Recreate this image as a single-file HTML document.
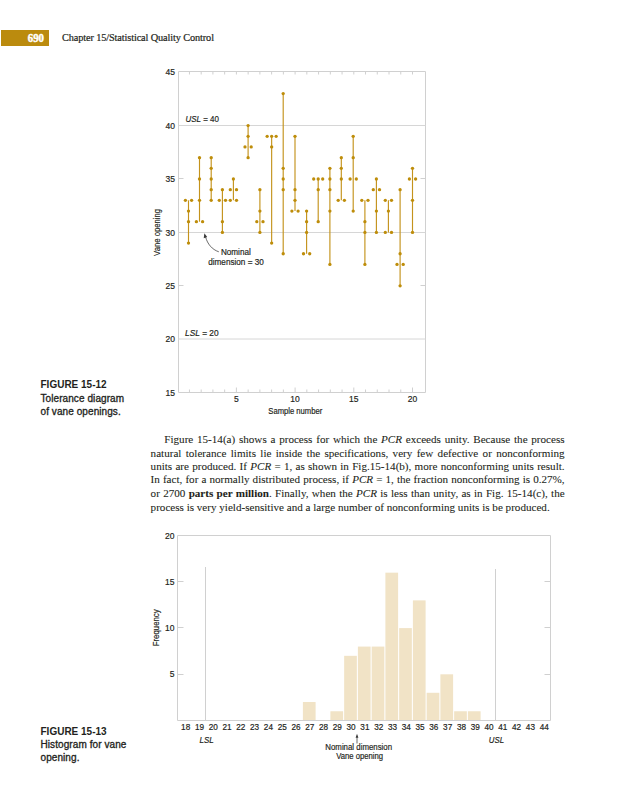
<!DOCTYPE html>
<html><head><meta charset="utf-8"><style>
html,body{margin:0;padding:0;background:#fff;}
body{width:639px;height:800px;position:relative;overflow:hidden;}
svg{position:absolute;left:0;top:0;}
svg text{font-family:"Liberation Sans",sans-serif;fill:#231F20;stroke:#231F20;stroke-width:0.18px;}
.pn{position:absolute;left:1px;top:30px;width:48px;height:16px;background:#BB8B0E;}
.pn span{position:absolute;right:5.3px;top:-0.3px;font-family:"Liberation Serif",serif;font-weight:bold;color:#fff;font-size:12px;line-height:16px;-webkit-text-stroke:0.45px #fff;transform:scaleX(0.9);transform-origin:right center;}
.hd{position:absolute;left:62px;top:30px;font-family:"Liberation Serif",serif;font-size:10.3px;letter-spacing:-0.12px;line-height:16px;color:#231F20;-webkit-text-stroke:0.2px #231F20;}
.cap{position:absolute;left:40.5px;font-family:"Liberation Sans",sans-serif;font-size:10px;line-height:13.3px;color:#231F20;-webkit-text-stroke:0.32px #231F20;letter-spacing:0.08px;}
.cap b{font-weight:bold;-webkit-text-stroke:0;letter-spacing:0;}
.para{position:absolute;left:150.6px;top:433px;width:414px;font-family:"Liberation Serif",serif;font-size:11.1px;line-height:13.4px;color:#231F20;-webkit-text-stroke:0.08px #231F20;}
.para div{position:absolute;left:0;width:414px;box-sizing:border-box;text-align:justify;text-align-last:justify;white-space:nowrap;}
.para div.last{text-align-last:left;}
</style></head><body>
<div class="pn"><span>690</span></div>
<div class="hd">Chapter 15/Statistical Quality Control</div>
<svg width="639" height="800" viewBox="0 0 639 800">
<path d="M178.5,71.5H425.5V392.5H178.5Z" fill="none" stroke="#D0D0D0" stroke-width="1"/>
<line x1="178.5" x2="425.5" y1="125.5" y2="125.5" stroke="#D6D6D6" stroke-width="1"/>
<line x1="178.5" x2="425.5" y1="232.5" y2="232.5" stroke="#D6D6D6" stroke-width="1"/>
<line x1="178.5" x2="425.5" y1="339.0" y2="339.0" stroke="#D6D6D6" stroke-width="1"/>
<line x1="178.5" x2="183.5" y1="178.5" y2="178.5" stroke="#D0D0D0" stroke-width="1"/>
<line x1="420.5" x2="425.5" y1="178.5" y2="178.5" stroke="#D0D0D0" stroke-width="1"/>
<line x1="178.5" x2="183.5" y1="285.5" y2="285.5" stroke="#D0D0D0" stroke-width="1"/>
<line x1="420.5" x2="425.5" y1="285.5" y2="285.5" stroke="#D0D0D0" stroke-width="1"/>
<line x1="189.44" x2="189.44" y1="71.5" y2="74.5" stroke="#D0D0D0" stroke-width="1"/>
<line x1="189.44" x2="189.44" y1="392.5" y2="389.5" stroke="#D0D0D0" stroke-width="1"/>
<line x1="201.18" x2="201.18" y1="71.5" y2="74.5" stroke="#D0D0D0" stroke-width="1"/>
<line x1="201.18" x2="201.18" y1="392.5" y2="389.5" stroke="#D0D0D0" stroke-width="1"/>
<line x1="212.92" x2="212.92" y1="71.5" y2="74.5" stroke="#D0D0D0" stroke-width="1"/>
<line x1="212.92" x2="212.92" y1="392.5" y2="389.5" stroke="#D0D0D0" stroke-width="1"/>
<line x1="224.66" x2="224.66" y1="71.5" y2="74.5" stroke="#D0D0D0" stroke-width="1"/>
<line x1="224.66" x2="224.66" y1="392.5" y2="389.5" stroke="#D0D0D0" stroke-width="1"/>
<line x1="236.40" x2="236.40" y1="71.5" y2="74.5" stroke="#D0D0D0" stroke-width="1"/>
<line x1="236.40" x2="236.40" y1="392.5" y2="387.5" stroke="#D0D0D0" stroke-width="1"/>
<line x1="248.14" x2="248.14" y1="71.5" y2="74.5" stroke="#D0D0D0" stroke-width="1"/>
<line x1="248.14" x2="248.14" y1="392.5" y2="389.5" stroke="#D0D0D0" stroke-width="1"/>
<line x1="259.88" x2="259.88" y1="71.5" y2="74.5" stroke="#D0D0D0" stroke-width="1"/>
<line x1="259.88" x2="259.88" y1="392.5" y2="389.5" stroke="#D0D0D0" stroke-width="1"/>
<line x1="271.62" x2="271.62" y1="71.5" y2="74.5" stroke="#D0D0D0" stroke-width="1"/>
<line x1="271.62" x2="271.62" y1="392.5" y2="389.5" stroke="#D0D0D0" stroke-width="1"/>
<line x1="283.36" x2="283.36" y1="71.5" y2="74.5" stroke="#D0D0D0" stroke-width="1"/>
<line x1="283.36" x2="283.36" y1="392.5" y2="389.5" stroke="#D0D0D0" stroke-width="1"/>
<line x1="295.10" x2="295.10" y1="71.5" y2="74.5" stroke="#D0D0D0" stroke-width="1"/>
<line x1="295.10" x2="295.10" y1="392.5" y2="387.5" stroke="#D0D0D0" stroke-width="1"/>
<line x1="306.84" x2="306.84" y1="71.5" y2="74.5" stroke="#D0D0D0" stroke-width="1"/>
<line x1="306.84" x2="306.84" y1="392.5" y2="389.5" stroke="#D0D0D0" stroke-width="1"/>
<line x1="318.58" x2="318.58" y1="71.5" y2="74.5" stroke="#D0D0D0" stroke-width="1"/>
<line x1="318.58" x2="318.58" y1="392.5" y2="389.5" stroke="#D0D0D0" stroke-width="1"/>
<line x1="330.32" x2="330.32" y1="71.5" y2="74.5" stroke="#D0D0D0" stroke-width="1"/>
<line x1="330.32" x2="330.32" y1="392.5" y2="389.5" stroke="#D0D0D0" stroke-width="1"/>
<line x1="342.06" x2="342.06" y1="71.5" y2="74.5" stroke="#D0D0D0" stroke-width="1"/>
<line x1="342.06" x2="342.06" y1="392.5" y2="389.5" stroke="#D0D0D0" stroke-width="1"/>
<line x1="353.80" x2="353.80" y1="71.5" y2="74.5" stroke="#D0D0D0" stroke-width="1"/>
<line x1="353.80" x2="353.80" y1="392.5" y2="387.5" stroke="#D0D0D0" stroke-width="1"/>
<line x1="365.54" x2="365.54" y1="71.5" y2="74.5" stroke="#D0D0D0" stroke-width="1"/>
<line x1="365.54" x2="365.54" y1="392.5" y2="389.5" stroke="#D0D0D0" stroke-width="1"/>
<line x1="377.28" x2="377.28" y1="71.5" y2="74.5" stroke="#D0D0D0" stroke-width="1"/>
<line x1="377.28" x2="377.28" y1="392.5" y2="389.5" stroke="#D0D0D0" stroke-width="1"/>
<line x1="389.02" x2="389.02" y1="71.5" y2="74.5" stroke="#D0D0D0" stroke-width="1"/>
<line x1="389.02" x2="389.02" y1="392.5" y2="389.5" stroke="#D0D0D0" stroke-width="1"/>
<line x1="400.76" x2="400.76" y1="71.5" y2="74.5" stroke="#D0D0D0" stroke-width="1"/>
<line x1="400.76" x2="400.76" y1="392.5" y2="389.5" stroke="#D0D0D0" stroke-width="1"/>
<line x1="412.50" x2="412.50" y1="71.5" y2="74.5" stroke="#D0D0D0" stroke-width="1"/>
<line x1="412.50" x2="412.50" y1="392.5" y2="387.5" stroke="#D0D0D0" stroke-width="1"/>
<text x="175" y="75.30" text-anchor="end" font-size="8.5">45</text>
<text x="175" y="128.70" text-anchor="end" font-size="8.5">40</text>
<text x="175" y="182.10" text-anchor="end" font-size="8.5">35</text>
<text x="175" y="235.50" text-anchor="end" font-size="8.5">30</text>
<text x="175" y="288.90" text-anchor="end" font-size="8.5">25</text>
<text x="175" y="342.30" text-anchor="end" font-size="8.5">20</text>
<text x="175" y="395.70" text-anchor="end" font-size="8.5">15</text>
<text x="236.40" y="402.3" text-anchor="middle" font-size="8.5">5</text>
<text x="295.10" y="402.3" text-anchor="middle" font-size="8.5">10</text>
<text x="353.80" y="402.3" text-anchor="middle" font-size="8.5">15</text>
<text x="412.50" y="402.3" text-anchor="middle" font-size="8.5">20</text>
<text x="268.3" y="413.8" text-anchor="start" font-size="8.2" textLength="54" lengthAdjust="spacingAndGlyphs">Sample number</text>
<text transform="translate(160.2,255.9) rotate(-90)" font-size="8.2" textLength="47" lengthAdjust="spacingAndGlyphs">Vane opening</text>
<text x="185.5" y="121.9" text-anchor="start" font-size="8.2" textLength="33.5" lengthAdjust="spacingAndGlyphs"><tspan font-style="italic">USL</tspan> = 40</text>
<text x="185.0" y="335.8" text-anchor="start" font-size="8.2" textLength="33.6" lengthAdjust="spacingAndGlyphs"><tspan font-style="italic">LSL</tspan> = 20</text>
<text x="220.9" y="255" text-anchor="start" font-size="8.4" textLength="29.9" lengthAdjust="spacingAndGlyphs">Nominal</text>
<text x="208.2" y="264.8" text-anchor="start" font-size="8.4" textLength="55.6" lengthAdjust="spacingAndGlyphs">dimension = 30</text>
<path d="M218.8,251.8 C212,249.5 207.5,244 205.6,237" fill="none" stroke="#3a3a3a" stroke-width="0.75"/>
<path d="M204.4,233.2 L203.7,238.2 L207.2,237.1 Z" fill="#3a3a3a"/>
<line x1="188.50" x2="188.50" y1="200.36" y2="243.08" stroke="#C4931C" stroke-width="1.15"/>
<circle cx="185.40" cy="200.36" r="1.65" fill="#BE8D0A"/>
<circle cx="191.60" cy="200.36" r="1.65" fill="#BE8D0A"/>
<circle cx="188.50" cy="211.04" r="1.65" fill="#BE8D0A"/>
<circle cx="188.50" cy="221.72" r="1.65" fill="#BE8D0A"/>
<circle cx="188.50" cy="243.08" r="1.65" fill="#BE8D0A"/>
<line x1="199.50" x2="199.50" y1="157.64" y2="221.72" stroke="#C4931C" stroke-width="1.15"/>
<circle cx="199.50" cy="157.64" r="1.65" fill="#BE8D0A"/>
<circle cx="199.50" cy="179.00" r="1.65" fill="#BE8D0A"/>
<circle cx="199.50" cy="200.36" r="1.65" fill="#BE8D0A"/>
<circle cx="196.40" cy="221.72" r="1.65" fill="#BE8D0A"/>
<circle cx="202.60" cy="221.72" r="1.65" fill="#BE8D0A"/>
<line x1="211.20" x2="211.20" y1="157.64" y2="200.36" stroke="#C4931C" stroke-width="1.15"/>
<circle cx="211.20" cy="157.64" r="1.65" fill="#BE8D0A"/>
<circle cx="211.20" cy="168.32" r="1.65" fill="#BE8D0A"/>
<circle cx="211.20" cy="179.00" r="1.65" fill="#BE8D0A"/>
<circle cx="211.20" cy="189.68" r="1.65" fill="#BE8D0A"/>
<circle cx="211.20" cy="200.36" r="1.65" fill="#BE8D0A"/>
<line x1="222.40" x2="222.40" y1="189.68" y2="232.40" stroke="#C4931C" stroke-width="1.15"/>
<circle cx="222.40" cy="189.68" r="1.65" fill="#BE8D0A"/>
<circle cx="219.30" cy="200.36" r="1.65" fill="#BE8D0A"/>
<circle cx="225.50" cy="200.36" r="1.65" fill="#BE8D0A"/>
<circle cx="222.40" cy="221.72" r="1.65" fill="#BE8D0A"/>
<circle cx="222.40" cy="232.40" r="1.65" fill="#BE8D0A"/>
<line x1="233.40" x2="233.40" y1="179.00" y2="200.36" stroke="#C4931C" stroke-width="1.15"/>
<circle cx="233.40" cy="179.00" r="1.65" fill="#BE8D0A"/>
<circle cx="230.30" cy="189.68" r="1.65" fill="#BE8D0A"/>
<circle cx="236.50" cy="189.68" r="1.65" fill="#BE8D0A"/>
<circle cx="230.30" cy="200.36" r="1.65" fill="#BE8D0A"/>
<circle cx="236.50" cy="200.36" r="1.65" fill="#BE8D0A"/>
<line x1="248.10" x2="248.10" y1="125.60" y2="157.64" stroke="#C4931C" stroke-width="1.15"/>
<circle cx="248.10" cy="125.60" r="1.65" fill="#BE8D0A"/>
<circle cx="248.10" cy="136.28" r="1.65" fill="#BE8D0A"/>
<circle cx="245.00" cy="146.96" r="1.65" fill="#BE8D0A"/>
<circle cx="251.20" cy="146.96" r="1.65" fill="#BE8D0A"/>
<circle cx="248.10" cy="157.64" r="1.65" fill="#BE8D0A"/>
<line x1="259.90" x2="259.90" y1="189.68" y2="232.40" stroke="#C4931C" stroke-width="1.15"/>
<circle cx="259.90" cy="189.68" r="1.65" fill="#BE8D0A"/>
<circle cx="259.90" cy="211.04" r="1.65" fill="#BE8D0A"/>
<circle cx="256.80" cy="221.72" r="1.65" fill="#BE8D0A"/>
<circle cx="263.00" cy="221.72" r="1.65" fill="#BE8D0A"/>
<circle cx="259.90" cy="232.40" r="1.65" fill="#BE8D0A"/>
<line x1="271.65" x2="271.65" y1="136.28" y2="243.08" stroke="#C4931C" stroke-width="1.15"/>
<circle cx="267.15" cy="136.28" r="1.65" fill="#BE8D0A"/>
<circle cx="271.65" cy="136.28" r="1.65" fill="#BE8D0A"/>
<circle cx="276.15" cy="136.28" r="1.65" fill="#BE8D0A"/>
<circle cx="271.65" cy="146.96" r="1.65" fill="#BE8D0A"/>
<circle cx="271.65" cy="243.08" r="1.65" fill="#BE8D0A"/>
<line x1="283.20" x2="283.20" y1="93.56" y2="253.76" stroke="#C4931C" stroke-width="1.15"/>
<circle cx="283.20" cy="93.56" r="1.65" fill="#BE8D0A"/>
<circle cx="283.20" cy="168.32" r="1.65" fill="#BE8D0A"/>
<circle cx="283.20" cy="179.00" r="1.65" fill="#BE8D0A"/>
<circle cx="283.20" cy="189.68" r="1.65" fill="#BE8D0A"/>
<circle cx="283.20" cy="253.76" r="1.65" fill="#BE8D0A"/>
<line x1="295.00" x2="295.00" y1="136.28" y2="211.04" stroke="#C4931C" stroke-width="1.15"/>
<circle cx="295.00" cy="136.28" r="1.65" fill="#BE8D0A"/>
<circle cx="295.00" cy="189.68" r="1.65" fill="#BE8D0A"/>
<circle cx="295.00" cy="200.36" r="1.65" fill="#BE8D0A"/>
<circle cx="291.90" cy="211.04" r="1.65" fill="#BE8D0A"/>
<circle cx="298.10" cy="211.04" r="1.65" fill="#BE8D0A"/>
<line x1="306.60" x2="306.60" y1="211.04" y2="253.76" stroke="#C4931C" stroke-width="1.15"/>
<circle cx="306.60" cy="211.04" r="1.65" fill="#BE8D0A"/>
<circle cx="306.60" cy="221.72" r="1.65" fill="#BE8D0A"/>
<circle cx="306.60" cy="232.40" r="1.65" fill="#BE8D0A"/>
<circle cx="303.50" cy="253.76" r="1.65" fill="#BE8D0A"/>
<circle cx="309.70" cy="253.76" r="1.65" fill="#BE8D0A"/>
<line x1="318.20" x2="318.20" y1="179.00" y2="221.72" stroke="#C4931C" stroke-width="1.15"/>
<circle cx="313.70" cy="179.00" r="1.65" fill="#BE8D0A"/>
<circle cx="318.20" cy="179.00" r="1.65" fill="#BE8D0A"/>
<circle cx="322.70" cy="179.00" r="1.65" fill="#BE8D0A"/>
<circle cx="318.20" cy="189.68" r="1.65" fill="#BE8D0A"/>
<circle cx="318.20" cy="221.72" r="1.65" fill="#BE8D0A"/>
<line x1="329.90" x2="329.90" y1="168.32" y2="264.44" stroke="#C4931C" stroke-width="1.15"/>
<circle cx="329.90" cy="168.32" r="1.65" fill="#BE8D0A"/>
<circle cx="329.90" cy="179.00" r="1.65" fill="#BE8D0A"/>
<circle cx="329.90" cy="189.68" r="1.65" fill="#BE8D0A"/>
<circle cx="329.90" cy="211.04" r="1.65" fill="#BE8D0A"/>
<circle cx="329.90" cy="264.44" r="1.65" fill="#BE8D0A"/>
<line x1="341.30" x2="341.30" y1="157.64" y2="200.36" stroke="#C4931C" stroke-width="1.15"/>
<circle cx="341.30" cy="157.64" r="1.65" fill="#BE8D0A"/>
<circle cx="341.30" cy="168.32" r="1.65" fill="#BE8D0A"/>
<circle cx="341.30" cy="179.00" r="1.65" fill="#BE8D0A"/>
<circle cx="338.20" cy="200.36" r="1.65" fill="#BE8D0A"/>
<circle cx="344.40" cy="200.36" r="1.65" fill="#BE8D0A"/>
<line x1="353.20" x2="353.20" y1="136.28" y2="211.04" stroke="#C4931C" stroke-width="1.15"/>
<circle cx="353.20" cy="136.28" r="1.65" fill="#BE8D0A"/>
<circle cx="353.20" cy="157.64" r="1.65" fill="#BE8D0A"/>
<circle cx="350.10" cy="179.00" r="1.65" fill="#BE8D0A"/>
<circle cx="356.30" cy="179.00" r="1.65" fill="#BE8D0A"/>
<circle cx="353.20" cy="211.04" r="1.65" fill="#BE8D0A"/>
<line x1="364.90" x2="364.90" y1="200.36" y2="264.44" stroke="#C4931C" stroke-width="1.15"/>
<circle cx="361.80" cy="200.36" r="1.65" fill="#BE8D0A"/>
<circle cx="368.00" cy="200.36" r="1.65" fill="#BE8D0A"/>
<circle cx="364.90" cy="221.72" r="1.65" fill="#BE8D0A"/>
<circle cx="364.90" cy="232.40" r="1.65" fill="#BE8D0A"/>
<circle cx="364.90" cy="264.44" r="1.65" fill="#BE8D0A"/>
<line x1="376.40" x2="376.40" y1="179.00" y2="232.40" stroke="#C4931C" stroke-width="1.15"/>
<circle cx="376.40" cy="179.00" r="1.65" fill="#BE8D0A"/>
<circle cx="373.30" cy="189.68" r="1.65" fill="#BE8D0A"/>
<circle cx="379.50" cy="189.68" r="1.65" fill="#BE8D0A"/>
<circle cx="376.40" cy="211.04" r="1.65" fill="#BE8D0A"/>
<circle cx="376.40" cy="232.40" r="1.65" fill="#BE8D0A"/>
<line x1="388.40" x2="388.40" y1="200.36" y2="232.40" stroke="#C4931C" stroke-width="1.15"/>
<circle cx="385.30" cy="200.36" r="1.65" fill="#BE8D0A"/>
<circle cx="391.50" cy="200.36" r="1.65" fill="#BE8D0A"/>
<circle cx="388.40" cy="211.04" r="1.65" fill="#BE8D0A"/>
<circle cx="385.30" cy="232.40" r="1.65" fill="#BE8D0A"/>
<circle cx="391.50" cy="232.40" r="1.65" fill="#BE8D0A"/>
<line x1="400.10" x2="400.10" y1="189.68" y2="285.80" stroke="#C4931C" stroke-width="1.15"/>
<circle cx="400.10" cy="189.68" r="1.65" fill="#BE8D0A"/>
<circle cx="400.10" cy="253.76" r="1.65" fill="#BE8D0A"/>
<circle cx="397.00" cy="264.44" r="1.65" fill="#BE8D0A"/>
<circle cx="403.20" cy="264.44" r="1.65" fill="#BE8D0A"/>
<circle cx="400.10" cy="285.80" r="1.65" fill="#BE8D0A"/>
<line x1="412.50" x2="412.50" y1="168.32" y2="232.40" stroke="#C4931C" stroke-width="1.15"/>
<circle cx="412.50" cy="168.32" r="1.65" fill="#BE8D0A"/>
<circle cx="409.40" cy="179.00" r="1.65" fill="#BE8D0A"/>
<circle cx="415.60" cy="179.00" r="1.65" fill="#BE8D0A"/>
<circle cx="412.50" cy="200.36" r="1.65" fill="#BE8D0A"/>
<circle cx="412.50" cy="232.40" r="1.65" fill="#BE8D0A"/>
<path d="M177.5,535.5H550.5V720.5H177.5Z" fill="none" stroke="#D0D0D0" stroke-width="1"/>
<line x1="177.5" x2="183.5" y1="581.5" y2="581.5" stroke="#D0D0D0" stroke-width="1"/>
<line x1="544.5" x2="550.5" y1="581.5" y2="581.5" stroke="#D0D0D0" stroke-width="1"/>
<line x1="177.5" x2="183.5" y1="627.5" y2="627.5" stroke="#D0D0D0" stroke-width="1"/>
<line x1="544.5" x2="550.5" y1="627.5" y2="627.5" stroke="#D0D0D0" stroke-width="1"/>
<line x1="177.5" x2="183.5" y1="674.5" y2="674.5" stroke="#D0D0D0" stroke-width="1"/>
<line x1="544.5" x2="550.5" y1="674.5" y2="674.5" stroke="#D0D0D0" stroke-width="1"/>
<text x="174.5" y="538.50" text-anchor="end" font-size="8.5">20</text>
<text x="174.5" y="584.70" text-anchor="end" font-size="8.5">15</text>
<text x="174.5" y="630.90" text-anchor="end" font-size="8.5">10</text>
<text x="174.5" y="677.10" text-anchor="end" font-size="8.5">5</text>
<line x1="205.5" x2="205.5" y1="567" y2="720.5" stroke="#D0D0D0" stroke-width="1"/>
<line x1="495.5" x2="495.5" y1="569" y2="720.5" stroke="#D0D0D0" stroke-width="1"/>
<rect x="302.90" y="702.02" width="12.7" height="17.98" fill="#F1E3C6"/>
<rect x="330.40" y="711.26" width="12.7" height="8.74" fill="#F1E3C6"/>
<rect x="344.15" y="655.82" width="12.7" height="64.18" fill="#F1E3C6"/>
<rect x="357.90" y="646.58" width="12.7" height="73.42" fill="#F1E3C6"/>
<rect x="371.65" y="646.58" width="12.7" height="73.42" fill="#F1E3C6"/>
<rect x="385.40" y="572.66" width="12.7" height="147.34" fill="#F1E3C6"/>
<rect x="399.15" y="628.10" width="12.7" height="91.90" fill="#F1E3C6"/>
<rect x="412.90" y="600.38" width="12.7" height="119.62" fill="#F1E3C6"/>
<rect x="426.65" y="692.78" width="12.7" height="27.22" fill="#F1E3C6"/>
<rect x="440.40" y="674.30" width="12.7" height="45.70" fill="#F1E3C6"/>
<rect x="454.15" y="711.26" width="12.7" height="8.74" fill="#F1E3C6"/>
<rect x="467.90" y="711.26" width="12.7" height="8.74" fill="#F1E3C6"/>
<text x="185.65" y="730.2" text-anchor="middle" font-size="8.2">18</text>
<text x="199.44" y="730.2" text-anchor="middle" font-size="8.2">19</text>
<text x="213.23" y="730.2" text-anchor="middle" font-size="8.2">20</text>
<text x="227.02" y="730.2" text-anchor="middle" font-size="8.2">21</text>
<text x="240.81" y="730.2" text-anchor="middle" font-size="8.2">22</text>
<text x="254.60" y="730.2" text-anchor="middle" font-size="8.2">23</text>
<text x="268.39" y="730.2" text-anchor="middle" font-size="8.2">24</text>
<text x="282.18" y="730.2" text-anchor="middle" font-size="8.2">25</text>
<text x="295.97" y="730.2" text-anchor="middle" font-size="8.2">26</text>
<text x="309.76" y="730.2" text-anchor="middle" font-size="8.2">27</text>
<text x="323.55" y="730.2" text-anchor="middle" font-size="8.2">28</text>
<text x="337.34" y="730.2" text-anchor="middle" font-size="8.2">29</text>
<text x="351.13" y="730.2" text-anchor="middle" font-size="8.2">30</text>
<text x="364.92" y="730.2" text-anchor="middle" font-size="8.2">31</text>
<text x="378.71" y="730.2" text-anchor="middle" font-size="8.2">32</text>
<text x="392.50" y="730.2" text-anchor="middle" font-size="8.2">33</text>
<text x="406.29" y="730.2" text-anchor="middle" font-size="8.2">34</text>
<text x="420.08" y="730.2" text-anchor="middle" font-size="8.2">35</text>
<text x="433.87" y="730.2" text-anchor="middle" font-size="8.2">36</text>
<text x="447.66" y="730.2" text-anchor="middle" font-size="8.2">37</text>
<text x="461.45" y="730.2" text-anchor="middle" font-size="8.2">38</text>
<text x="475.24" y="730.2" text-anchor="middle" font-size="8.2">39</text>
<text x="489.03" y="730.2" text-anchor="middle" font-size="8.2">40</text>
<text x="502.82" y="730.2" text-anchor="middle" font-size="8.2">41</text>
<text x="516.61" y="730.2" text-anchor="middle" font-size="8.2">42</text>
<text x="530.40" y="730.2" text-anchor="middle" font-size="8.2">43</text>
<text x="544.19" y="730.2" text-anchor="middle" font-size="8.2">44</text>
<text x="199.6" y="742.9" text-anchor="start" font-size="8.2" textLength="14.2" lengthAdjust="spacingAndGlyphs" font-style="italic">LSL</text>
<text x="488.8" y="742.9" text-anchor="start" font-size="8.2" textLength="15.2" lengthAdjust="spacingAndGlyphs" font-style="italic">USL</text>
<line x1="357" x2="357" y1="736" y2="743.5" stroke="#3a3a3a" stroke-width="0.75"/>
<path d="M357,733.8 L355.6,737.8 L358.4,737.8 Z" fill="#3a3a3a"/>
<text x="325.3" y="750.1" text-anchor="start" font-size="8.2" textLength="66.8" lengthAdjust="spacingAndGlyphs">Nominal dimension</text>
<text x="336.2" y="759.1" text-anchor="start" font-size="8.2" textLength="46.8" lengthAdjust="spacingAndGlyphs">Vane opening</text>
<text transform="translate(159.0,646.3) rotate(-90)" font-size="8.2" textLength="37" lengthAdjust="spacingAndGlyphs">Frequency</text>
</svg>
<div class="cap" style="top:378px"><b>FIGURE 15-12</b></div><div class="cap" style="top:392.3px">Tolerance diagram</div><div class="cap" style="top:404.6px">of vane openings.</div>
<div class="cap" style="top:725px"><b>FIGURE 15-13</b></div><div class="cap" style="top:738.2px">Histogram for vane</div><div class="cap" style="top:751.1px">opening.</div>
<div class="para">
<div style="padding-left:13.7px;top:0px">Figure 15-14(a) shows a process for which the <i>PCR</i> exceeds unity. Because the process</div>
<div style="top:14.25px">natural tolerance limits lie inside the specifications, very few defective or nonconforming</div>
<div style="top:26.8px">units are produced. If <i>PCR</i> = 1, as shown in Fig.15-14(b), more nonconforming units result.</div>
<div style="top:40.2px">In fact, for a normally distributed process, if <i>PCR</i> = 1, the fraction nonconforming is 0.27%,</div>
<div style="top:53.6px">or 2700 <b>parts per million</b>. Finally, when the <i>PCR</i> is less than unity, as in Fig. 15-14(c), the</div>
<div class="last" style="top:67.5px">process is very yield-sensitive and a large number of nonconforming units is be produced.</div>
</div>
</body></html>
